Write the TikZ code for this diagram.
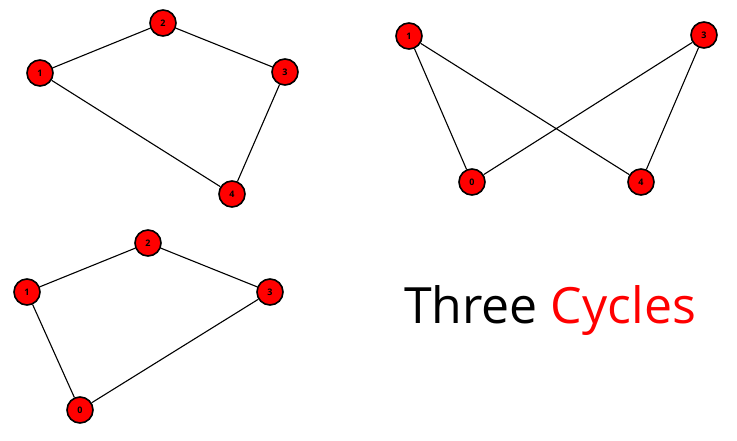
\documentclass[tikz,border=0pt]{standalone}
\usepackage{fontspec}
\setmainfont{Open Sans}
\begin{document}
\begin{tikzpicture}[x=1pt,y=-1pt,
  vtx/.style={circle,fill=red,draw=black,line width=1.6pt,minimum size=26pt,inner sep=0pt,font=\fontsize{9}{9}\selectfont\bfseries},
  edge/.style={line width=1.1pt}]
\useasboundingbox (0,0) rectangle (737,440);
\node[vtx] (a1) at (40,73) {1};
\node[vtx] (a2) at (163,23) {2};
\node[vtx] (a3) at (285,72) {3};
\node[vtx] (a4) at (232,194) {4};
\node[vtx] (b1) at (409,36) {1};
\node[vtx] (b3) at (704,35) {3};
\node[vtx] (b0) at (472,182) {0};
\node[vtx] (b4) at (641,182) {4};
\node[vtx] (c1) at (27,292) {1};
\node[vtx] (c2) at (148,243) {2};
\node[vtx] (c3) at (270,292) {3};
\node[vtx] (c0) at (80,410) {0};
\begin{scope}[on background layer/.style={}]
\end{scope}
\draw[edge] (a1)--(a2) (a2)--(a3) (a3)--(a4) (a4)--(a1);
\draw[edge] (b1)--(b0) (b1)--(b4) (b3)--(b0) (b3)--(b4);
\draw[edge] (c1)--(c2) (c2)--(c3) (c3)--(c0) (c0)--(c1);
\node[font=\fontsize{50}{50}\selectfont] (t) at (550,311) {Three \textcolor{red}{Cycles}};
\end{tikzpicture}
\end{document}
